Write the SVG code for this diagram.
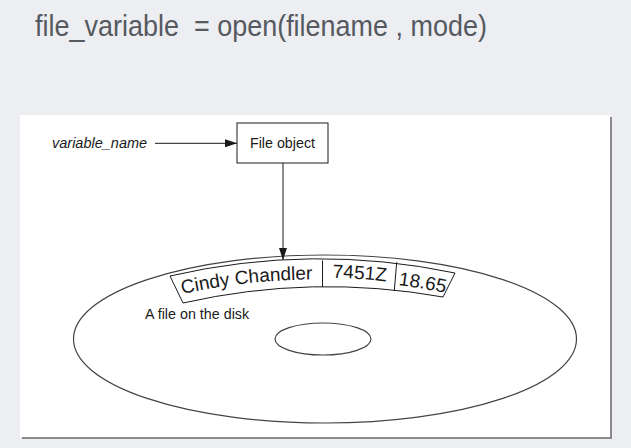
<svg xmlns="http://www.w3.org/2000/svg" width="631" height="448" viewBox="0 0 631 448">
<style>
.lbl{font-family:"Liberation Sans",Arial,sans-serif;fill:#1a1a1a}
.ln{stroke:#1a1a1a;stroke-width:1;fill:none}
.disk{stroke:#444;stroke-width:1.2;fill:none}
</style>
<defs>
<marker id="ah" markerWidth="12" markerHeight="8" refX="12" refY="4" orient="auto" markerUnits="userSpaceOnUse">
<path d="M0,0 L12,4 L0,8 Z" fill="#1a1a1a"/>
</marker>
<path id="base" d="M160,299.3 A626,626 0 0 1 480,301.4"/>
</defs>
<rect width="631" height="448" fill="#edeef2"/>
<text x="35" y="36" xml:space="preserve" font-family="'Liberation Sans',Arial,sans-serif" font-size="30" fill="#555960" textLength="452" lengthAdjust="spacingAndGlyphs">file_variable  = open(filename , mode)</text>
<rect x="22" y="117" width="590" height="322" fill="#8a8a8a"/>
<rect x="20" y="115" width="590" height="322" fill="#ffffff"/>
<g id="disk">
<ellipse class="disk" cx="325" cy="339" rx="251.5" ry="84"/>
<ellipse class="disk" cx="323" cy="339" rx="48" ry="16"/>
<text class="lbl" x="145" y="319" font-size="14.3">A file on the disk</text>
</g>
<g id="record">
<path class="ln" d="M170,276 A663,663 0 0 1 455,273 L443,297 A656,656 0 0 0 183,303 Z"/>
<line class="ln" x1="322.5" y1="260.5" x2="322.5" y2="287"/>
<line class="ln" x1="396.7" y1="262.3" x2="394.3" y2="290.7"/>
<text class="lbl" font-size="19"><textPath href="#base" startOffset="23">Cindy Chandler</textPath></text>
<text class="lbl" font-size="19" dy="-2"><textPath href="#base" startOffset="174">7451Z</textPath></text>
<text class="lbl" font-size="19"><textPath href="#base" startOffset="240">18.65</textPath></text>
</g>
<g id="varname">
<text class="lbl" x="52" y="148" font-size="14.5" font-style="italic">variable_name</text>
</g>
<g id="fileobject">
<rect x="237" y="123" width="91" height="40" fill="#fff" stroke="#1a1a1a" stroke-width="1"/>
<text class="lbl" x="282.5" y="148" font-size="14.3" text-anchor="middle">File object</text>
</g>
<g id="connectors">
<line class="ln" x1="155" y1="143.3" x2="237" y2="143.3" marker-end="url(#ah)"/>
<line class="ln" x1="283" y1="163" x2="283" y2="260" marker-end="url(#ah)"/>
</g>
</svg>
